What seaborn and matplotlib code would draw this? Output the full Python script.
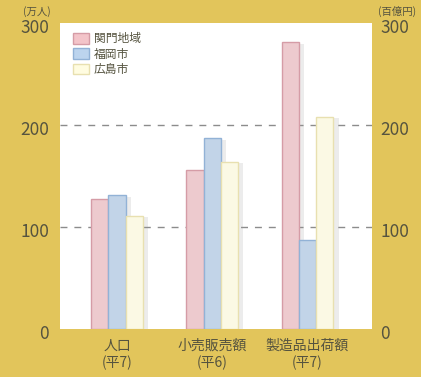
import pandas as pd
import matplotlib
matplotlib.use("Agg")
import matplotlib.pyplot as plt
import matplotlib.patheffects as pe
import matplotlib.transforms as mtransforms
from matplotlib.patches import Patch
import seaborn as sns

# データ
categories = ["人口\n(平7)", "小売販売額\n(平6)", "製造品出荷額\n(平7)"]
regions = ["関門地域", "福岡市", "広島市"]
kanmon = [127, 156, 281]
fukuoka = [131, 187, 87]
hiroshima = [111, 164, 208]
yticks = [0, 100, 200, 300]

rows = []
for vals, reg in zip([kanmon, fukuoka, hiroshima], regions):
    for cat, v in zip(categories, vals):
        rows.append({"cat": cat, "region": reg, "value": v})
df = pd.DataFrame(rows)

sns.set_style("white")
plt.rcParams["font.family"] = ["Noto Sans CJK JP", "DejaVu Sans"]

bg = "#E2C55B"
txt = "#55533f"
fills = ["#F3C4C9", "#BCD4EE", "#FFFCE0"]
edges = ["#D59CA6", "#92B2D6", "#E8E0B0"]

fig = plt.figure(figsize=(4.21, 3.77), dpi=100, facecolor=bg)
ax = fig.add_axes([0.1425, 0.1273, 0.741, 0.8117])
ax.set_facecolor("white")

sns.barplot(data=df, x="cat", y="value", hue="region", hue_order=regions,
            palette=fills, width=0.54, gap=0, ax=ax, legend=False, zorder=3)

# 枠線と影
for i, reg in enumerate(regions):
    for bar in ax.containers[i]:
        bar.set_edgecolor(edges[i])
        bar.set_linewidth(1.0)
        bar.set_path_effects([pe.SimplePatchShadow(offset=(4, -1), shadow_rgbFace="#9a9a9a", alpha=0.18),
                              pe.Normal()])

ax.set_ylim(0, 300)
ax.set_xlim(-0.6, 2.68)
for y in [100, 200]:
    ax.axhline(y, color="#8c8c8c", lw=1.0, ls=(0, (5, 5)), zorder=1)

shift = mtransforms.ScaledTranslation(0, -0.03, fig.dpi_scale_trans)

ax.set_yticks(yticks)
ax.set_yticklabels([str(t) for t in yticks], fontsize=12.5, color=txt)
ax.tick_params(axis="y", length=0, pad=8)
ax.tick_params(axis="x", length=0, pad=7)
ax.set_xticks(range(len(categories)))
ax.set_xticklabels(categories, fontsize=10, color=txt, linespacing=1.25)
ax.set_xlabel("")
ax.set_ylabel("")
for s in ax.spines.values():
    s.set_visible(False)

ax2 = ax.twinx()
ax2.set_ylim(0, 300)
ax2.set_yticks(yticks)
ax2.set_yticklabels([str(t) for t in yticks], fontsize=12.5, color=txt)
ax2.tick_params(axis="y", length=0, pad=6)
for s in ax2.spines.values():
    s.set_visible(False)

for lab in ax.get_yticklabels() + ax2.get_yticklabels():
    lab.set_transform(lab.get_transform() + shift)

fig.text(0.088, 0.97, "(万人)", fontsize=7.5, color=txt, ha="center", va="center")
fig.text(0.943, 0.97, "(百億円)", fontsize=7.5, color=txt, ha="center", va="center")

handles = [Patch(facecolor=f, edgecolor=e) for f, e in zip(fills, edges)]
leg = ax.legend(handles, regions, loc="upper left", bbox_to_anchor=(0.025, 0.985),
                frameon=False, fontsize=8.5, handlelength=1.4, handleheight=1.0,
                handletextpad=0.4, labelspacing=0.2, borderaxespad=0)
for t in leg.get_texts():
    t.set_color(txt)

fig.savefig("out.png", dpi=100, facecolor=bg)
